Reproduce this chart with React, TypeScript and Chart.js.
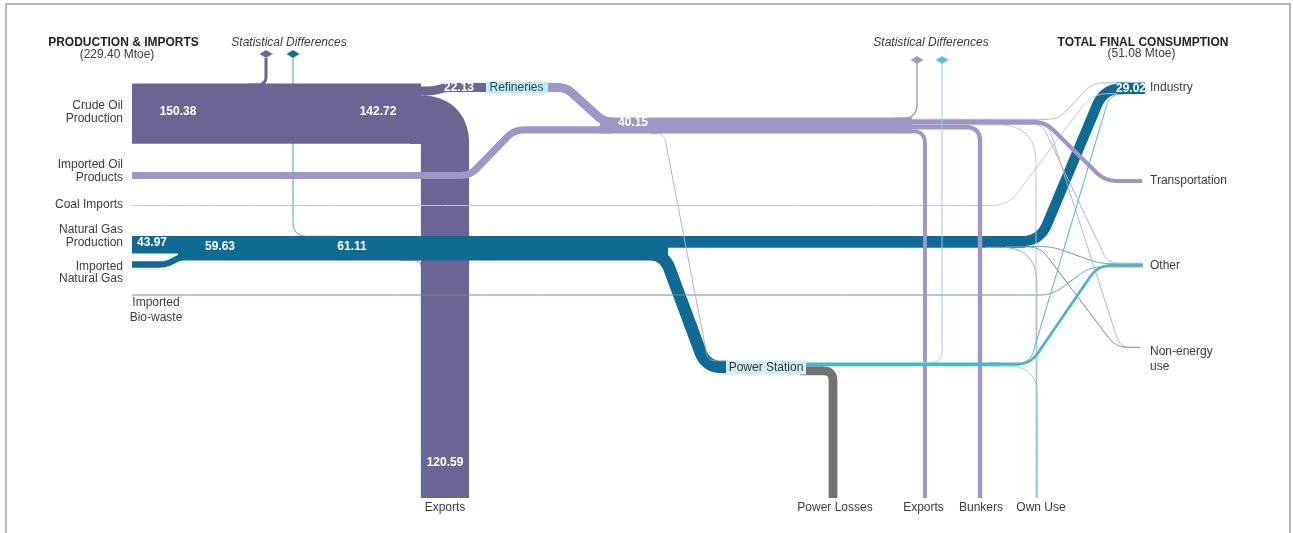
import React, { useEffect, useRef } from 'react';
import { Chart, registerables } from 'chart.js';

Chart.register(...registerables);

// ---------------- data (Mtoe) ----------------
const sourceLabels = ['Crude Oil\nProduction', 'Imported Oil\nProducts', 'Coal Imports', 'Natural Gas\nProduction', 'Imported\nNatural Gas', 'Imported\nBio-waste'];
const sourceValues = [150.38, 18.02, 0.6, 43.97, 15.66, 0.77];

const crudeUseLabels = ['Statistical Differences', 'Refineries', 'Exports'];
const crudeUseValues = [7.66, 22.13, 120.59];

const gasStatDiffValues = [1.48];

const oilProductUseLabels = ['Statistical Differences', 'Industry', 'Transportation', 'Other', 'Non-energy use', 'Own Use', 'Bunkers', 'Exports', 'Power Station'];
const oilProductUseValues = [3.5, 2.0, 10.5, 1.2, 0.8, 0.8, 11.0, 9.7, 0.65];

const gasUseLabels = ['Industry', 'Other', 'Non-energy use', 'Own Use', 'Power Station', 'Exports'];
const gasUseValues = [25.62, 1.2, 0.76, 1.53, 31.0, 1.0];

const powerUseLabels = ['Statistical Differences', 'Industry', 'Other', 'Own Use', 'Power Losses'];
const powerUseValues = [0.75, 0.8, 6.83, 1.3, 21.97];

const sinkLabels = ['Industry', 'Transportation', 'Other', 'Non-energy\nuse'];
const bottomLabels = ['Exports', 'Power Losses', 'Exports', 'Bunkers', 'Own Use'];
const headerLabels = ['PRODUCTION & IMPORTS', 'TOTAL FINAL CONSUMPTION', 'Statistical Differences'];
const nodeLabels = ['Refineries', 'Power Station'];

// ---------------- layout / style ----------------
const W = 1293;
const H = 533;
const SCALE = 0.4; // px per Mtoe
const wpx = (v: number) => v * SCALE;
const sum = (a: number[]) => a.reduce((s, v) => s + v, 0);
const cum = (a: number[], i: number) => sum(a.slice(0, i));

const LAYOUT = {
  srcX: 132,
  crudeTop: 83.5,
  refY: 87.5,
  impOilY: 175.5,
  coalY: 205.5,
  gasTop: 236,
  impGasY: 264.5,
  bioY: 295,
  oilTop: 117.5,
  psTop: 362.5,
  psGasY: 367,
  indTop: 82.5,
  traY: 181,
  othTop: 263,
  nonTop: 347,
  bottom: 498,
};

const COL = {
  crude: '#6c6594',
  oil: '#9d96c6',
  oilThin: '#b3afd0',
  gas: '#0f6b93',
  gasThin: '#5b8fab',
  gasSD: '#3e9cbd',
  elec: '#4bb4d0',
  elecSD: '#8ed2e5',
  loss: '#727272',
  coal: '#c6c6cc',
  bio: '#6b9096',
  own: '#b9c3d6',
  text: '#3a3a3a',
  head: '#222222',
};
const FONT = '"Liberation Sans", Arial, sans-serif';

type Pt = [number, number];
type Flow = { pts: Pt[]; v: number; color: string; r: number };

function roundPath(pts: Pt[], r: number) {
  const out: { x: number; y: number }[] = [{ x: pts[0][0], y: pts[0][1] }];
  for (let i = 1; i < pts.length - 1; i++) {
    const [x0, y0] = pts[i - 1];
    const [cx, cy] = pts[i];
    const [x1, y1] = pts[i + 1];
    const l1 = Math.hypot(cx - x0, cy - y0);
    const l2 = Math.hypot(x1 - cx, y1 - cy);
    const rr = Math.min(r, i === 1 ? l1 : l1 / 2, i === pts.length - 2 ? l2 : l2 / 2);
    if (rr < 0.5) {
      out.push({ x: cx, y: cy });
      continue;
    }
    const ax = cx - ((cx - x0) / l1) * rr;
    const ay = cy - ((cy - y0) / l1) * rr;
    const bx = cx + ((x1 - cx) / l2) * rr;
    const by = cy + ((y1 - cy) / l2) * rr;
    const N = 12;
    for (let k = 0; k <= N; k++) {
      const t = k / N;
      out.push({
        x: (1 - t) * (1 - t) * ax + 2 * (1 - t) * t * cx + t * t * bx,
        y: (1 - t) * (1 - t) * ay + 2 * (1 - t) * t * cy + t * t * by,
      });
    }
  }
  out.push({ x: pts[pts.length - 1][0], y: pts[pts.length - 1][1] });
  return out.filter((p, i) => i === 0 || Math.hypot(p.x - out[i - 1].x, p.y - out[i - 1].y) > 0.01);
}

function buildFlows(): Flow[] {
  const L = LAYOUT;
  const [crude, impOil, coal, gasProd, impGas, bio] = sourceValues;
  const [cSD, cRef, cExp] = crudeUseValues;
  const [gSD] = gasStatDiffValues;
  const [oSD, oInd, oTra, oOth, oNon, oOwn, oBun, oExp, oPow] = oilProductUseValues;
  const [gInd, gOth, gNon, gOwn, gPow, gExp] = gasUseValues;
  const [eSD, eInd, eOth, eOwn, eLoss] = powerUseValues;
  const oilTotal = sum(oilProductUseValues);
  const gasTotal = gasProd + impGas + gSD;
  const elecTotal = eSD + eInd + eOth + eOwn;

  const stackY = (top: number, arr: number[], i: number) => top + wpx(cum(arr, i)) + wpx(arr[i]) / 2;
  const indStack = [oInd, gInd, coal, eInd];
  const othStack = [oOth, gOth, eOth, bio];
  const nonStack = [oNon, gNon];
  const indY = (i: number) => stackY(L.indTop, indStack, i);
  const othY = (i: number) => stackY(L.othTop, othStack, i);
  const nonY = (i: number) => stackY(L.nonTop, nonStack, i);
  const oilY = (i: number) => stackY(L.oilTop, oilProductUseValues, i);
  const gasY = (i: number) => stackY(L.gasTop, gasUseValues, i);
  const pwY = (i: number) => stackY(L.psTop, powerUseValues, i);
  const crY = (i: number) => stackY(L.crudeTop, crudeUseValues, i);

  const f: Flow[] = [];
  const add = (pts: Pt[], v: number, color: string, r = 0) => f.push({ pts, v, color, r });

  // gas statistical difference (behind crude band)
  add([[293, 58], [293, L.gasTop + 0.3], [336, L.gasTop + 0.3]], gSD, COL.gasSD, 14);

  // crude oil
  add([[248, crY(0)], [266, crY(0)], [266, 58]], cSD, COL.crude, 9);
  add([[L.srcX, L.crudeTop + wpx(crude) / 2], [421, L.crudeTop + wpx(crude) / 2]], crude, COL.crude);
  add([[410, crY(1)], [432, crY(1)], [446, L.refY], [492, L.refY]], cRef, COL.crude, 5);
  add([[410, crY(2)], [445, crY(2)], [445, L.bottom]], cExp, COL.crude, wpx(cExp) / 2);

  // natural gas (big)
  const gp = L.gasTop + wpx(gasProd) / 2;
  add([[L.srcX, gp], [200, gp]], gasProd, COL.gas);
  const gi = L.gasTop + wpx(gasProd) + wpx(impGas) / 2;
  add([[L.srcX, L.impGasY], [166, L.impGasY], [181, gi], [200, gi]], impGas, COL.gas, 6);
  const gt = L.gasTop + wpx(gasTotal) / 2;
  add([[178, gt], [668, gt]], gasTotal, COL.gas);
  add([[640, gasY(4)], [664, gasY(4)], [706, L.psGasY], [728, L.psGasY]], gPow, COL.gas, 16);
  const g2v = gInd + gOth + gNon + gOwn;
  add([[660, L.gasTop + wpx(g2v) / 2], [1025, L.gasTop + wpx(g2v) / 2]], g2v, COL.gas);
  add([[1015, gasY(0)], [1040, gasY(0)], [1104, indY(1)], [1125, indY(1)]], gInd, COL.gas, 18);

  // thin lines
  add([[L.srcX, L.coalY], [1008, L.coalY], [1092, indY(2)], [1125, indY(2)]], coal, COL.coal, 16);
  add([[L.srcX, L.bioY], [1052, L.bioY], [1090, othY(3)], [1143, othY(3)]], bio, COL.bio, 12);
  add([[1005, gasY(1)], [1052, gasY(1)], [1100, othY(1)], [1143, othY(1)]], gOth, COL.gasThin, 12);
  add([[1005, gasY(2)], [1040, gasY(2)], [1116, nonY(1)], [1140, nonY(1)]], gNon, COL.gasThin, 12);
  add([[985, gasY(3)], [1036.8, gasY(3)], [1036.8, L.bottom]], gOwn, '#8aa9c2', 36);
  add([[905, oilY(1)], [1058, oilY(1)], [1093, indY(0)], [1125, indY(0)]], oInd, COL.oilThin, 10);
  add([[905, oilY(3)], [1042, oilY(3)], [1108, othY(0)], [1143, othY(0)]], oOth, COL.oilThin, 10);
  add([[905, oilY(4)], [1048, oilY(4)], [1120, nonY(0)], [1140, nonY(0)]], oNon, COL.oilThin, 10);
  add([[905, oilY(5)], [1036, oilY(5)], [1036, L.bottom]], oOwn, COL.own, 38);
  add([[650, oilY(8)], [664, oilY(8)], [708, 360.8], [727, 360.8]], oPow, COL.oilThin, 8);
  add([[400, gasY(5)], [421.5, gasY(5)], [421.5, L.bottom]], gExp, '#2a7fa3', 8);

  // oil products (big)
  const io = L.oilTop + wpx(cRef) + wpx(impOil) / 2;
  add([[L.srcX, L.impOilY], [470, L.impOilY], [514, io], [612, io]], impOil, COL.oil, 10);
  const ro = L.oilTop + wpx(cRef) / 2;
  add([[540, L.refY], [566, L.refY], [604, ro], [612, ro]], cRef, COL.oil, 8);
  const ot = L.oilTop + wpx(oilTotal) / 2;
  add([[600, ot], [912, ot]], oilTotal, COL.oil);
  add([[895, oilY(0)], [917, oilY(0)], [917, 62]], oSD, COL.oil, 14);
  add([[895, oilY(2)], [1045, oilY(2)], [1105, L.traY], [1142, L.traY]], oTra, COL.oil, 12);
  add([[895, oilY(6)], [980, oilY(6)], [980, L.bottom]], oBun, COL.oil, 14);
  add([[895, oilY(7)], [925, oilY(7)], [925, L.bottom]], oExp, COL.oil, 12);

  // power station outputs
  add([[800, pwY(4)], [833, pwY(4)], [833, L.bottom]], eLoss, COL.loss, 10);
  const et = L.psTop + wpx(elecTotal) / 2;
  add([[800, et], [1000, et]], elecTotal, COL.elec);
  add([[918, pwY(0)], [942, pwY(0)], [942, 62]], eSD, COL.elecSD, 12);
  add([[990, pwY(1)], [1030, pwY(1)], [1110, indY(3)], [1125, indY(3)]], eInd, COL.elec, 12);
  add([[990, pwY(2)], [1030, pwY(2)], [1098, othY(2)], [1143, othY(2)]], eOth, COL.elec, 14);
  add([[990, pwY(3)], [1037.6, pwY(3)], [1037.6, L.bottom]], eOwn, COL.elecSD, 30);

  // industry node
  const indTotal = sum(indStack);
  add([[1117, L.indTop + wpx(indTotal) / 2], [1145, L.indTop + wpx(indTotal) / 2]], indTotal, COL.gas);
  return f;
}

function diamond(color: string) {
  const c = document.createElement('canvas');
  c.width = 13;
  c.height = 8;
  const g = c.getContext('2d')!;
  g.fillStyle = color;
  g.beginPath();
  g.moveTo(6.5, 0);
  g.lineTo(13, 4);
  g.lineTo(6.5, 8);
  g.lineTo(0, 4);
  g.closePath();
  g.fill();
  return c;
}

type TextItem = { t: string; x: number; y: number; align?: CanvasTextAlign; font?: string; color?: string };

function buildTexts() {
  const [crude, impOil, coal, gasProd, impGas, bio] = sourceValues;
  const [cSD, cRef, cExp] = crudeUseValues;
  const [gSD] = gasStatDiffValues;
  const [, oInd, oTra, oOth, oNon] = oilProductUseValues;
  const [gInd, gOth, gNon] = gasUseValues;
  const [, eInd, eOth] = powerUseValues;
  const indTotal = oInd + gInd + coal + eInd;
  const othTotal = oOth + gOth + eOth + bio;
  const nonTotal = oNon + gNon;
  const tfc = indTotal + oTra + othTotal + nonTotal;
  const totalIn = sum(sourceValues);
  const reg = `12px ${FONT}`;
  const bold = `bold 12px ${FONT}`;
  const ital = `italic 12px ${FONT}`;
  const items: TextItem[] = [];
  const push = (t: string, x: number, y: number, align: CanvasTextAlign = 'center', font = reg, color = COL.text) =>
    items.push({ t, x, y, align, font, color });

  push(headerLabels[0], 123.5, 43, 'center', bold, COL.head);
  push(`(${totalIn.toFixed(2)} Mtoe)`, 117, 55, 'center', reg, COL.text);
  push(headerLabels[1], 1143, 43, 'center', bold, COL.head);
  push(`(${tfc.toFixed(2)} Mtoe)`, 1141.5, 54, 'center', reg, COL.text);
  push(headerLabels[2], 289, 43, 'center', ital, COL.text);
  push(headerLabels[2], 931, 43, 'center', ital, COL.text);

  const srcPos: [number, number, CanvasTextAlign][] = [
    [123, 106, 'right'],
    [123, 165, 'right'],
    [123, 205, 'right'],
    [123, 230, 'right'],
    [123, 267, 'right'],
    [156, 303, 'center'],
  ];
  sourceLabels.forEach((lab, i) => {
    const lines = lab.split('\n');
    const gap = i === 5 ? 15 : i === 4 ? 11.5 : 12.5;
    lines.forEach((ln, k) => push(ln, srcPos[i][0], srcPos[i][1] + k * gap, srcPos[i][2]));
  });

  const botX = [445, 835, 923.5, 981, 1041];
  bottomLabels.forEach((lab, i) => push(lab, botX[i], 508));

  const sinkY = [88, 181, 266, 352];
  sinkLabels.forEach((lab, i) => lab.split('\n').forEach((ln, k) => push(ln, 1150, sinkY[i] + k * 15, 'left')));

  const wv = (t: string, x: number, y: number) => push(t, x, y, 'center', bold, '#ffffff');
  wv(crude.toFixed(2), 178, 112);
  wv((crude - cSD).toFixed(2), 378, 112);
  wv(cRef.toFixed(2), 459, 88);
  wv(sum(oilProductUseValues).toFixed(2), 633, 123);
  wv(gasProd.toFixed(2), 152, 243);
  wv((gasProd + impGas).toFixed(2), 220, 247);
  wv((gasProd + impGas + gSD).toFixed(2), 352, 247);
  wv(cExp.toFixed(2), 445, 463);
  wv(indTotal.toFixed(2), 1131, 88.5);

  push(nodeLabels[0], 516.5, 87.5, 'center', reg, '#1d4e5c');
  push(nodeLabels[1], 766, 367.5, 'center', reg, '#333333');
  return items;
}

const labelBoxes = [
  { x0: 486, x1: 548, y0: 81.5, y1: 93.5, fill: '#c6eaf3' },
  { x0: 726, x1: 806, y0: 360.5, y1: 374.5, fill: '#d3eff6' },
];

export default function App() {
  const ref = useRef<HTMLCanvasElement>(null);

  useEffect(() => {
    const canvas = ref.current;
    if (!canvas) return;
    const flows = buildFlows();
    const texts = buildTexts();

    const flowSets = flows.map((fl) => ({
      type: 'line' as const,
      data: roundPath(fl.pts, fl.r),
      borderColor: fl.color,
      borderWidth: Math.max(wpx(fl.v), 1),
      pointRadius: 0,
      pointHoverRadius: 0,
      pointHitRadius: 0,
      fill: false,
      showLine: true,
      tension: 0.000001,
      borderCapStyle: 'butt' as const,
      borderJoinStyle: 'round' as const,
    }));

    const diamonds = {
      type: 'line' as const,
      data: [
        { x: 266, y: 54 },
        { x: 293, y: 54 },
        { x: 917, y: 60 },
        { x: 942, y: 60 },
      ],
      showLine: false,
      pointRadius: 4,
      pointHoverRadius: 4,
      pointStyle: [diamond(COL.crude), diamond(COL.gas), diamond(COL.oil), diamond('#5fc0da')] as any,
    };

    // dataset 0 is painted last in Chart.js, so reverse paint order
    const datasets = [diamonds, ...flowSets.slice().reverse()];

    const framePlugin = {
      id: 'frame',
      beforeDraw(chart: any) {
        const { ctx } = chart;
        ctx.save();
        ctx.fillStyle = '#ffffff';
        ctx.fillRect(0, 0, W, H);
        ctx.strokeStyle = '#a3a3a3';
        ctx.lineWidth = 1.5;
        ctx.beginPath();
        ctx.moveTo(6, H + 5);
        ctx.lineTo(6, 4);
        ctx.lineTo(1290, 4);
        ctx.lineTo(1290, H + 5);
        ctx.stroke();
        ctx.restore();
      },
    };

    const textPlugin = {
      id: 'sankeyText',
      afterDatasetsDraw(chart: any) {
        const { ctx } = chart;
        const xs = chart.scales.x;
        const ys = chart.scales.y;
        ctx.save();
        for (const b of labelBoxes) {
          const x0 = xs.getPixelForValue(b.x0);
          const x1 = xs.getPixelForValue(b.x1);
          const y0 = ys.getPixelForValue(b.y0);
          const y1 = ys.getPixelForValue(b.y1);
          ctx.fillStyle = b.fill;
          ctx.fillRect(x0, y0, x1 - x0, y1 - y0);
        }
        ctx.textBaseline = 'middle';
        for (const t of texts) {
          ctx.font = t.font!;
          ctx.fillStyle = t.color!;
          ctx.textAlign = t.align!;
          ctx.fillText(t.t, xs.getPixelForValue(t.x), ys.getPixelForValue(t.y));
        }
        ctx.restore();
      },
    };

    const chart = new Chart(canvas, {
      type: 'line',
      data: { datasets: datasets as any },
      options: {
        animation: false,
        responsive: false,
        devicePixelRatio: 1,
        events: [],
        layout: { padding: 0, autoPadding: false },
        plugins: { legend: { display: false }, tooltip: { enabled: false } },
        scales: {
          x: { type: 'linear', min: 0, max: W, display: false },
          y: { type: 'linear', min: 0, max: H, reverse: true, display: false },
        },
      },
      plugins: [framePlugin, textPlugin],
    });
    return () => chart.destroy();
  }, []);

  return (
    <div style={{ position: 'fixed', left: 0, top: 0, width: W, height: H, background: '#fff' }}>
      <canvas ref={ref} width={W} height={H} style={{ display: 'block', width: W, height: H }} />
    </div>
  );
}
